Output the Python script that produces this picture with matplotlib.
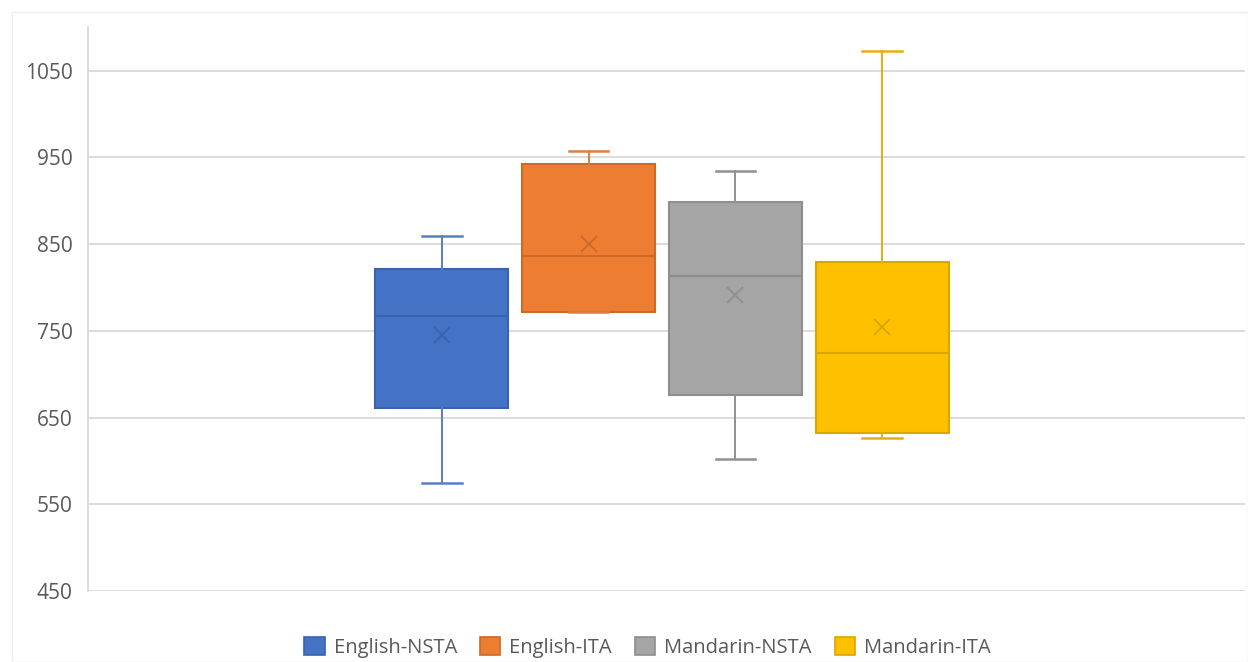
"""Box plot of four speaker groups, Excel style."""

import matplotlib
matplotlib.use("Agg")
import matplotlib.pyplot as plt
from matplotlib.patches import Patch, Rectangle

groups = ["English-NSTA", "English-ITA", "Mandarin-NSTA", "Mandarin-ITA"]
whis_lo = [574, 772, 602, 626]
q1 = [661, 772, 676, 632]
median = [767, 836, 813, 724]
mean = [745, 850, 791, 755]
q3 = [821, 943, 899, 830]
whis_hi = [859, 958, 934, 1073]

fill_colors = ["#4472C4", "#ED7D31", "#A5A5A5", "#FFC000"]
edge_colors = ["#3A63AD", "#CC6A28", "#8E8E8E", "#DBA600"]
whisker_colors = ["#5B7EC2", "#E07E3F", "#909090", "#E5AE10"]

y_ticks = [450, 550, 650, 750, 850, 950, 1050]

plt.rcParams["font.family"] = ["Open Sans", "DejaVu Sans"]

fig = plt.figure(figsize=(12.48, 6.62), dpi=100)
ax = fig.add_axes([0.0705, 0.1073, 0.927, 0.8513])

# faint chart-area border
fig.patches.append(Rectangle((12 / 1248, 0), 1 - 12 / 1248, 1 - 12 / 662,
                             transform=fig.transFigure, fill=False,
                             edgecolor="#EEEEEE", linewidth=1.0))

for i, name in enumerate(groups):
    stats = [dict(label=name, whislo=whis_lo[i], q1=q1[i], med=median[i],
                  q3=q3[i], whishi=whis_hi[i], mean=mean[i], fliers=[])]
    ax.bxp(stats, positions=[i], widths=0.905, capwidths=0.27,
           patch_artist=True, showmeans=True, showfliers=False,
           boxprops=dict(facecolor=fill_colors[i], edgecolor=edge_colors[i],
                         linewidth=1.5),
           medianprops=dict(color=edge_colors[i], linewidth=1.5),
           whiskerprops=dict(color=whisker_colors[i], linewidth=1.4),
           capprops=dict(color=whisker_colors[i], linewidth=1.8),
           meanprops=dict(marker="x", markersize=11, markeredgewidth=1.3,
                          markeredgecolor=edge_colors[i]),
           zorder=3)

ax.set_xlim(-2.41, 5.47)
ax.set_ylim(450, 1100)
ax.set_yticks(y_ticks)
ax.set_xticks([])
ax.grid(axis="y", color="#D9D9D9", linewidth=1.3, zorder=0)
ax.set_axisbelow(True)
for side in ["top", "right", "bottom"]:
    ax.spines[side].set_visible(False)
ax.spines["left"].set_color("#D9D9D9")
ax.spines["left"].set_linewidth(1.3)
ax.tick_params(axis="y", length=0, pad=11, labelsize=15, labelcolor="#595959")

handles = [Patch(facecolor=fill_colors[i], edgecolor=edge_colors[i],
                 linewidth=1.2, label=groups[i]) for i in range(len(groups))]
fig.legend(handles=handles, loc="center", bbox_to_anchor=(0.519, 0.022),
           ncol=4, frameon=False, fontsize=14.5, labelcolor="#595959",
           handlelength=1.0, handleheight=0.95, handletextpad=0.45,
           columnspacing=1.15)

fig.savefig("out.png", dpi=100)
